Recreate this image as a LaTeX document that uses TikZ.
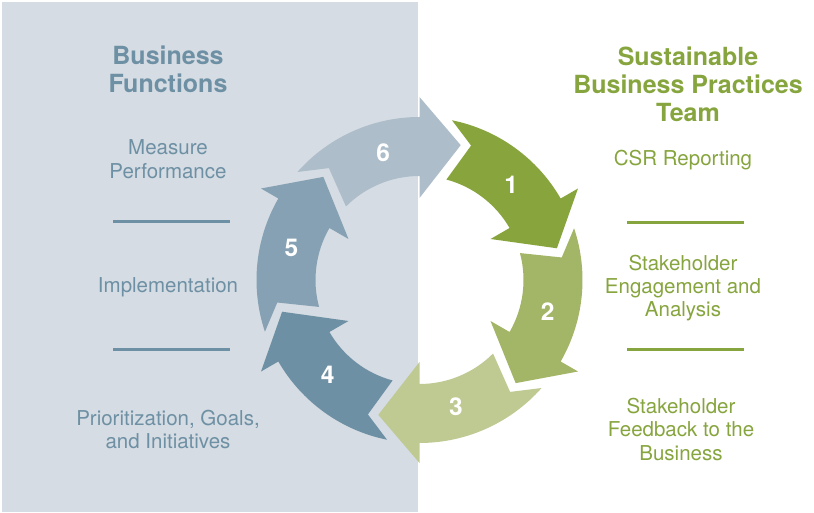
\documentclass[tikz,border=0pt]{standalone}
\usepackage{fontspec}
\setmainfont{TeX Gyre Heros}
\usetikzlibrary{calc}
\definecolor{panel}{HTML}{D5DCE3}
\definecolor{bluetext}{HTML}{6E90A4}
\definecolor{greentext}{HTML}{87A53E}
\definecolor{aone}{HTML}{87A53C}
\definecolor{atwo}{HTML}{A3B566}
\definecolor{athree}{HTML}{BFCA93}
\definecolor{afour}{HTML}{6E90A4}
\definecolor{afive}{HTML}{86A1B3}
\definecolor{asix}{HTML}{AEBDCA}
\tikzset{
  titletext/.style={anchor=base, align=center, inner sep=0pt, font=\fontsize{25}{28}\selectfont\bfseries},
  bodytext/.style={anchor=base, align=center, inner sep=0pt, font=\fontsize{20.5}{23.3}\selectfont},
  numtext/.style={text=white, inner sep=0pt, font=\fontsize{24.5}{24.5}\selectfont\bfseries},
  sepline/.style={line width=3pt},
}
\begin{document}
\begin{tikzpicture}[x=1pt,y=1pt]
\useasboundingbox (0,0) rectangle (814,512);
\fill[white] (0,0) rectangle (814,512);
\fill[panel] (2,0) rectangle (418,510);
% cycle arrows
\coordinate (C) at (419.5,232);
\begin{scope}[shift={(C)}]
\foreach \B/\col in {90/asix, 30/aone, -30/atwo, -90/athree, -150/afour, 150/afive} {
  \pgfmathsetmacro\T{\B+60}
  \pgfmathsetmacro\Ta{\T-11.5}
  \pgfmathsetmacro\Tb{\T-15}
  \pgfmathsetmacro\Tc{\T-21}
  \pgfmathsetmacro\Bt{\B-17}
  \fill[\col] (\Ta:163pt) arc[start angle=\Ta, end angle=\B, radius=163pt]
     -- (\B:183pt) -- (\Bt:141pt) -- (\B:82pt) -- (\B:104pt)
     arc[start angle=\B, end angle=\Tb, radius=104pt]
     -- (\Tc:144pt) -- cycle;
}
\node[numtext] (n6) at (106:132pt) {6};
\node[numtext] (n1) at (46:132pt) {1};
\node[numtext] (n2) at (-14:132pt) {2};
\node[numtext] (n3) at (-74:132pt) {3};
\node[numtext] (n4) at (-134:132pt) {4};
\node[numtext] (n5) at (166:132pt) {5};
\end{scope}
% left column
\node[titletext, text=bluetext] (lt) at (168,419.3) {Business\\Functions};
\node[bodytext, text=bluetext] (l1) at (168,333.7) {Measure\\Performance};
\coordinate (ls1a) at (113,290); \coordinate (ls1b) at (230,290);
\draw[sepline, bluetext] (ls1a) -- (ls1b);
\node[bodytext, text=bluetext] (l2) at (168,219) {Implementation};
\coordinate (ls2a) at (113,162.7); \coordinate (ls2b) at (230,162.7);
\draw[sepline, bluetext] (ls2a) -- (ls2b);
\node[bodytext, text=bluetext] (l3) at (168,63.7) {Prioritization, Goals,\\and Initiatives};
% right column
\node[titletext, text=greentext] (rt) at (688,390.3) {Sustainable\\Business Practices\\Team};
\node[bodytext, text=greentext] (r1) at (683,346.3) {CSR Reporting};
\coordinate (rs1a) at (627,289.7); \coordinate (rs1b) at (744,289.7);
\draw[sepline, greentext] (rs1a) -- (rs1b);
\node[bodytext, text=greentext] (r2) at (683,195.3) {Stakeholder\\Engagement and\\Analysis};
\coordinate (rs2a) at (627,162.7); \coordinate (rs2b) at (744,162.7);
\draw[sepline, greentext] (rs2a) -- (rs2b);
\node[bodytext, text=greentext] (r3) at (681,52) {Stakeholder\\Feedback to the\\Business};
\end{tikzpicture}
\end{document}
